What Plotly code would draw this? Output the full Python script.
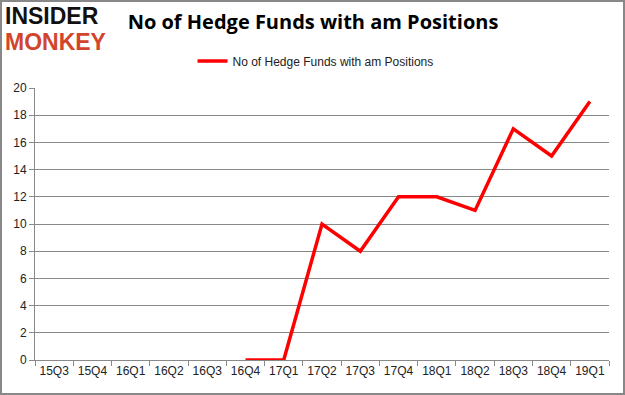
import plotly.graph_objects as go

quarters = ["15Q3", "15Q4", "16Q1", "16Q2", "16Q3", "16Q4", "17Q1", "17Q2",
            "17Q3", "17Q4", "18Q1", "18Q2", "18Q3", "18Q4", "19Q1"]
funds = [None, None, None, None, None, 0, 0, 10, 8, 12, 12, 11, 17, 15, 19]
y_ticks = [0, 2, 4, 6, 8, 10, 12, 14, 16, 18, 20]
series_name = "No of Hedge Funds with am Positions"
title_text = "No of Hedge Funds with am Positions"

L, R, T, B = 35, 16, 88, 35
PW, PH = 625 - L - R, 395 - T - B

fig = go.Figure()
fig.add_trace(go.Scatter(
    x=quarters, y=funds, mode="lines", name=series_name,
    line=dict(color="#ff0000", width=3.5), connectgaps=False,
))

fig.update_layout(
    width=625, height=395,
    margin=dict(l=L, r=R, t=T, b=B, autoexpand=False),
    paper_bgcolor="white", plot_bgcolor="white",
    showlegend=True,
    legend=dict(orientation="h", x=(315.5 - L) / PW, xanchor="center",
                y=1 + (T - 61) / PH, yanchor="middle",
                font=dict(family="Liberation Sans", size=12, color="#222"),
                bgcolor="rgba(0,0,0,0)"),
    title=dict(text="<b>" + title_text + "</b>", x=313 / 625, xanchor="center",
               y=1 - 22 / 395, yanchor="middle",
               font=dict(family="Open Sans", size=20, color="#000")),
    font=dict(family="Liberation Sans", size=12, color="#222"),
)

fig.update_xaxes(
    type="category", tickson="boundaries", ticks="outside", ticklen=5,
    range=[-0.5, len(quarters) - 0.5], tickangle=0,
    tickcolor="#898989", showline=True, linecolor="#898989", linewidth=1,
    showgrid=False, tickfont=dict(size=12, color="#222"),
)
fig.update_yaxes(
    range=[0, 20], tickvals=y_ticks, ticks="outside", ticklen=5,
    tickcolor="#898989", showline=True, linecolor="#898989", linewidth=1,
    showgrid=True, gridcolor="#898989", gridwidth=1, zeroline=False,
    tickfont=dict(size=12, color="#222"),
)

# outer border
fig.add_shape(type="rect", xref="paper", yref="paper",
              x0=(-L + 1) / PW, x1=1 + (R - 1) / PW,
              y0=(-B + 1) / PH, y1=1 + (T - 1) / PH,
              line=dict(color="#888", width=2), layer="above")

# logo
fig.add_annotation(text="<b>INSIDER</b>", xref="paper", yref="paper",
                   x=(-L + 3) / PW, y=1 + (T - 16) / PH, xanchor="left", yanchor="middle",
                   showarrow=False,
                   font=dict(family="Liberation Sans", size=23, color="#111"))
fig.add_annotation(text="<b>MONKEY</b>", xref="paper", yref="paper",
                   x=(-L + 3) / PW, y=1 + (T - 42) / PH, xanchor="left", yanchor="middle",
                   showarrow=False,
                   font=dict(family="Liberation Sans", size=23, color="#d2452c"))

fig.write_html("out.html", post_script="document.body.style.margin='0';",
               config={"displayModeBar": False})
